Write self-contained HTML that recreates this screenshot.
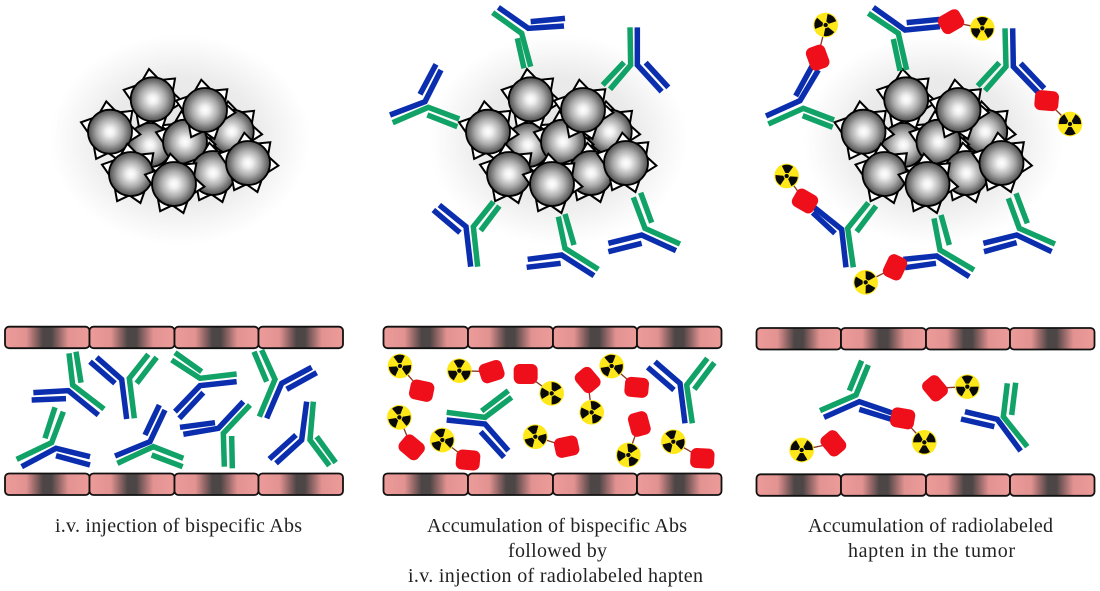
<!DOCTYPE html>
<html><head><meta charset="utf-8"><style>
html,body{margin:0;padding:0;background:#fff}
svg{display:block}
text{font-family:"Liberation Serif",serif;font-size:20px;fill:#222}
.g{stroke:#11a267;stroke-width:16.5;fill:none}
.u{stroke:#0b2eae;stroke-width:16.5;fill:none}
.k{stroke:#8a3a20;stroke-width:4;fill:none}
</style></head><body>
<svg width="1100" height="591" viewBox="0 0 1100 591" xmlns="http://www.w3.org/2000/svg">
<defs>
<radialGradient id="ball"><stop offset="0" stop-color="#fff"/><stop offset=".2" stop-color="#efefef"/><stop offset=".6" stop-color="#a8a8a8"/><stop offset=".88" stop-color="#686868"/><stop offset="1" stop-color="#4c4c4c"/></radialGradient>
<radialGradient id="sh"><stop offset="0" stop-color="#e4e4e4"/><stop offset=".6" stop-color="#ebebeb"/><stop offset=".85" stop-color="#f8f8f8"/><stop offset="1" stop-color="#fff"/></radialGradient>
<linearGradient id="cell"><stop offset="0" stop-color="#ec9b99"/><stop offset=".25" stop-color="#e29391"/><stop offset=".37" stop-color="#8a6262"/><stop offset=".45" stop-color="#4c4646"/><stop offset=".55" stop-color="#4c4646"/><stop offset=".63" stop-color="#8a6262"/><stop offset=".75" stop-color="#e29391"/><stop offset="1" stop-color="#ec9b99"/></linearGradient>
<polygon id="s" points="20,-8 30.5,0 20,8" fill="#fff" stroke="#000" stroke-width="2"/>
<g id="b">
<use href="#s" transform="rotate(-97)"/><use href="#s" transform="rotate(-43)"/><use href="#s" transform="rotate(5)"/><use href="#s" transform="rotate(72)"/><use href="#s" transform="rotate(117)"/><use href="#s" transform="rotate(198)"/>
<circle r="22" fill="url(#ball)" stroke="#000" stroke-width="1.8"/>
</g>
<g id="cluster">
<ellipse cx="180" cy="140" rx="130" ry="105" fill="url(#sh)"/>
<use href="#b" x="150" y="145"/><use href="#b" x="231.7" y="131.7"/><use href="#b" x="185" y="141.7"/><use href="#b" x="213" y="173"/>
<use href="#b" x="110" y="131.7"/><use href="#b" x="152.7" y="99.3"/><use href="#b" x="205" y="110"/><use href="#b" x="131" y="174"/><use href="#b" x="174" y="184"/><use href="#b" x="248" y="163"/>
</g>
<g id="vrow">
<rect x="0" y="0" width="84.5" height="21.5" rx="4" fill="url(#cell)" stroke="#111" stroke-width="1.8"/>
<rect x="84.5" y="0" width="85" height="21.5" rx="4" fill="url(#cell)" stroke="#111" stroke-width="1.8"/>
<rect x="169.5" y="0" width="84" height="21.5" rx="4" fill="url(#cell)" stroke="#111" stroke-width="1.8"/>
<rect x="253.5" y="0" width="84.5" height="21.5" rx="4" fill="url(#cell)" stroke="#111" stroke-width="1.8"/>
</g>
<g id="r">
<circle r="37" fill="#ffe81a"/>
<g fill="#0a0a0a">
<path id="bl" d="M-5,-9 L-17,-29 A33.5,33.5 0 0 1 17,-29 L5,-9 Z"/>
<use href="#bl" transform="rotate(120)"/><use href="#bl" transform="rotate(240)"/>
<circle r="6.5"/>
</g>
</g>
<rect id="red" x="-36" y="-30" width="72" height="60" rx="18" fill="#ee0f1a"/>
</defs>
<rect width="1100" height="591" fill="#fff"/>

<!-- vessels -->
<use href="#vrow" x="5" y="326.7"/><use href="#vrow" x="5" y="473.5"/>
<use href="#vrow" x="383.5" y="326.7"/><use href="#vrow" x="383.5" y="473.5"/>
<use href="#vrow" x="756.5" y="328"/><use href="#vrow" x="756.5" y="474.3"/>

<!-- clusters -->
<use href="#cluster"/>
<use href="#cluster" x="378"/>
<use href="#cluster" x="753.5"/>

<!-- Panel 1 vessel antibodies -->
<g transform="translate(0,320) scale(.33333)">
<polyline class="u" points="100,218 205,212 295,285"/><polyline class="u" points="95,240 198,236"/>
<polyline class="g" points="207,100 218,195 312,267"/><polyline class="g" points="228,95 243,188"/>
<polyline class="u" points="290,112 365,178 380,297"/><polyline class="u" points="270,125 345,190"/>
<polyline class="g" points="445,103 388,175 403,295"/><polyline class="g" points="470,112 410,190"/>
<polyline class="g" points="515,120 600,175 710,162"/><polyline class="g" points="525,98 605,155"/>
<polyline class="u" points="710,185 600,197 525,275"/><polyline class="u" points="610,218 538,295"/>
<polyline class="g" points="785,90 825,178 778,290"/><polyline class="g" points="762,95 800,185"/>
<polyline class="u" points="800,295 845,190 935,142"/><polyline class="u" points="860,208 950,158"/>
<polyline class="g" points="50,418 155,368 190,275"/><polyline class="g" points="165,262 135,355"/>
<polyline class="u" points="65,440 168,385 270,410"/><polyline class="u" points="168,407 270,435"/>
<polyline class="u" points="345,408 450,365 495,270"/><polyline class="u" points="478,255 435,345"/>
<polyline class="g" points="352,430 460,380 550,415"/><polyline class="g" points="455,405 548,440"/>
<polyline class="u" points="730,245 655,325 550,343"/><polyline class="u" points="540,322 645,308"/>
<polyline class="g" points="750,255 670,340 673,440"/><polyline class="g" points="695,348 697,445"/>
<polyline class="u" points="920,245 905,360 828,430"/><polyline class="u" points="888,345 808,417"/>
<polyline class="g" points="940,245 930,360 988,437"/><polyline class="g" points="950,350 1007,428"/>
</g>

<!-- Panel 2 vessel -->
<g transform="translate(380,340) scale(.33333)">
<polyline class="g" points="200,217 315,232 395,172"/><polyline class="g" points="305,213 385,152"/>
<polyline class="u" points="200,240 315,252 385,332"/><polyline class="u" points="302,275 372,352"/>
<polyline class="u" points="825,65 900,130 915,250"/><polyline class="u" points="803,82 882,150"/>
<polyline class="g" points="982,55 920,135 937,250"/><polyline class="g" points="1003,68 943,148"/>
<g class="k">
<line x1="60" y1="78" x2="125" y2="152"/><line x1="238" y1="92" x2="335" y2="95"/><line x1="515" y1="160" x2="437" y2="102"/><line x1="695" y1="78" x2="770" y2="142"/><line x1="58" y1="232" x2="95" y2="322"/><line x1="187" y1="300" x2="264" y2="360"/><line x1="635" y1="217" x2="623" y2="120"/><line x1="466" y1="290" x2="560" y2="320"/><line x1="745" y1="345" x2="778" y2="252"/><line x1="880" y1="305" x2="967" y2="355"/>
</g>
<use href="#red" transform="translate(125,152) rotate(12)"/>
<use href="#red" transform="translate(335,95) rotate(-18)"/>
<use href="#red" transform="translate(437,102)"/>
<use href="#red" transform="translate(770,142) rotate(5)"/>
<use href="#red" transform="translate(95,322) rotate(40)"/>
<use href="#red" transform="translate(264,360) rotate(5)"/>
<use href="#red" transform="translate(623,120) rotate(50)"/>
<use href="#red" transform="translate(560,320) rotate(-12)"/>
<use href="#red" transform="translate(778,252) rotate(75)"/>
<use href="#red" transform="translate(967,355) rotate(3)"/>
<use href="#r" transform="translate(60,78) rotate(-5)"/>
<use href="#r" transform="translate(238,92)"/>
<use href="#r" transform="translate(515,160) rotate(30)"/>
<use href="#r" transform="translate(695,78) rotate(-10)"/>
<use href="#r" transform="translate(58,232) rotate(-10)"/>
<use href="#r" transform="translate(187,300) rotate(-15)"/>
<use href="#r" transform="translate(635,217) rotate(25)"/>
<use href="#r" transform="translate(466,290) rotate(-15)"/>
<use href="#r" transform="translate(745,345) rotate(25)"/>
<use href="#r" transform="translate(880,305) rotate(-15)"/>
</g>

<!-- Panel 2 tumor antibodies -->
<g transform="translate(380,0) scale(.33333)">
<polyline class="u" points="355,22 445,85 552,78"/><polyline class="u" points="452,65 555,55"/>
<polyline class="g" points="338,38 425,100 452,200"/><polyline class="g" points="412,115 432,205"/>
<polyline class="g" points="750,82 752,195 690,268"/><polyline class="g" points="732,187 668,255"/>
<polyline class="u" points="772,82 772,195 845,275"/><polyline class="u" points="797,188 865,262"/>
<polyline class="u" points="30,345 135,305 183,210"/><polyline class="u" points="168,193 120,283"/>
<polyline class="g" points="38,368 145,322 238,357"/><polyline class="g" points="142,345 232,380"/>
<polyline class="u" points="178,615 258,680 272,800"/><polyline class="u" points="160,630 240,698"/>
<polyline class="g" points="340,605 280,680 293,800"/><polyline class="g" points="358,618 302,692"/>
<polyline class="g" points="535,650 555,745 655,808"/><polyline class="g" points="555,642 582,735"/>
<polyline class="u" points="443,778 545,765 642,827"/><polyline class="u" points="440,802 542,790"/>
<polyline class="g" points="760,592 795,685 900,732"/><polyline class="g" points="782,578 815,668"/>
<polyline class="u" points="685,730 785,705 888,752"/><polyline class="u" points="685,755 785,730"/>
</g>

<!-- Panel 3 tumor top -->
<g transform="translate(750,0) scale(.33333)">
<polyline class="u" points="48,348 150,302 205,210"/><polyline class="u" points="188,195 137,288"/>
<polyline class="g" points="55,372 160,325 252,360"/><polyline class="g" points="158,347 248,382"/>
<line class="k" x1="203" y1="173" x2="227" y2="75"/>
<use href="#red" transform="translate(203,173) rotate(70)"/>
<use href="#r" transform="translate(227,75) rotate(40)"/>
<polyline class="u" points="370,22 465,90 570,80"/><polyline class="u" points="470,68 570,58"/>
<polyline class="g" points="355,40 445,100 470,210"/><polyline class="g" points="430,117 450,212"/>
<line class="k" x1="603" y1="65" x2="697" y2="85"/>
<use href="#red" transform="translate(603,65) rotate(-30)"/>
<use href="#r" transform="translate(697,85)"/>
<polyline class="g" points="765,85 768,200 705,272"/><polyline class="g" points="748,188 683,258"/>
<polyline class="u" points="788,85 790,200 865,278"/><polyline class="u" points="812,190 883,265"/>
<line class="k" x1="890" y1="302" x2="960" y2="372"/>
<use href="#red" transform="translate(890,302) rotate(5)"/>
<use href="#r" transform="translate(960,372) rotate(60)"/>
</g>

<!-- Panel 3 tumor bottom -->
<g transform="translate(750,170) scale(.33333)">
<polyline class="u" points="190,110 275,178 288,292"/><polyline class="u" points="188,128 255,190"/>
<polyline class="g" points="355,98 293,175 310,292"/><polyline class="g" points="378,108 320,185"/>
<line class="k" x1="165" y1="93" x2="110" y2="18"/>
<use href="#red" transform="translate(165,93) rotate(30)"/>
<use href="#r" transform="translate(110,18) rotate(5)"/>
<polyline class="g" points="552,145 570,240 672,300"/><polyline class="g" points="573,135 598,225"/>
<polyline class="u" points="460,268 560,258 658,320"/><polyline class="u" points="465,293 558,280"/>
<line class="k" x1="435" y1="292" x2="347" y2="337"/>
<use href="#red" transform="translate(435,292) rotate(-65)"/>
<use href="#r" transform="translate(347,337) rotate(30)"/>
<polyline class="g" points="775,85 808,175 915,222"/><polyline class="g" points="798,70 832,160"/>
<polyline class="u" points="700,220 800,195 905,245"/><polyline class="u" points="702,245 800,218"/>
</g>

<!-- Panel 3 vessel -->
<g transform="translate(750,320) scale(.33333)">
<polyline class="g" points="355,135 318,225 210,272"/><polyline class="g" points="335,122 298,212"/>
<polyline class="u" points="222,292 328,245 430,280"/><polyline class="u" points="328,268 425,298"/>
<line class="k" x1="458" y1="295" x2="523" y2="367"/>
<use href="#red" transform="translate(458,295) rotate(10)"/>
<use href="#r" transform="translate(523,367) rotate(60)"/>
<polyline class="g" points="772,190 760,290 832,380"/><polyline class="g" points="797,188 785,285"/>
<polyline class="u" points="645,275 742,298 812,393"/><polyline class="u" points="633,297 733,320"/>
<line class="k" x1="555" y1="205" x2="652" y2="200"/>
<use href="#red" transform="translate(555,205) rotate(50)"/>
<use href="#r" transform="translate(652,200)"/>
<line class="k" x1="155" y1="390" x2="250" y2="370"/>
<use href="#red" transform="translate(250,370) rotate(50)"/>
<use href="#r" transform="translate(155,390) rotate(60)"/>
</g>

<!-- captions -->
<text x="55" y="532" textLength="247" lengthAdjust="spacing">i.v. injection of bispecific Abs</text>
<text x="427" y="532" textLength="260" lengthAdjust="spacing">Accumulation of bispecific Abs</text>
<text x="508" y="557" textLength="99" lengthAdjust="spacing">followed by</text>
<text x="408" y="582" textLength="295" lengthAdjust="spacing">i.v. injection of radiolabeled hapten</text>
<text x="808" y="532" textLength="245" lengthAdjust="spacing">Accumulation of radiolabeled</text>
<text x="848" y="557" textLength="167" lengthAdjust="spacing">hapten in the tumor</text>
</svg>
</body></html>
